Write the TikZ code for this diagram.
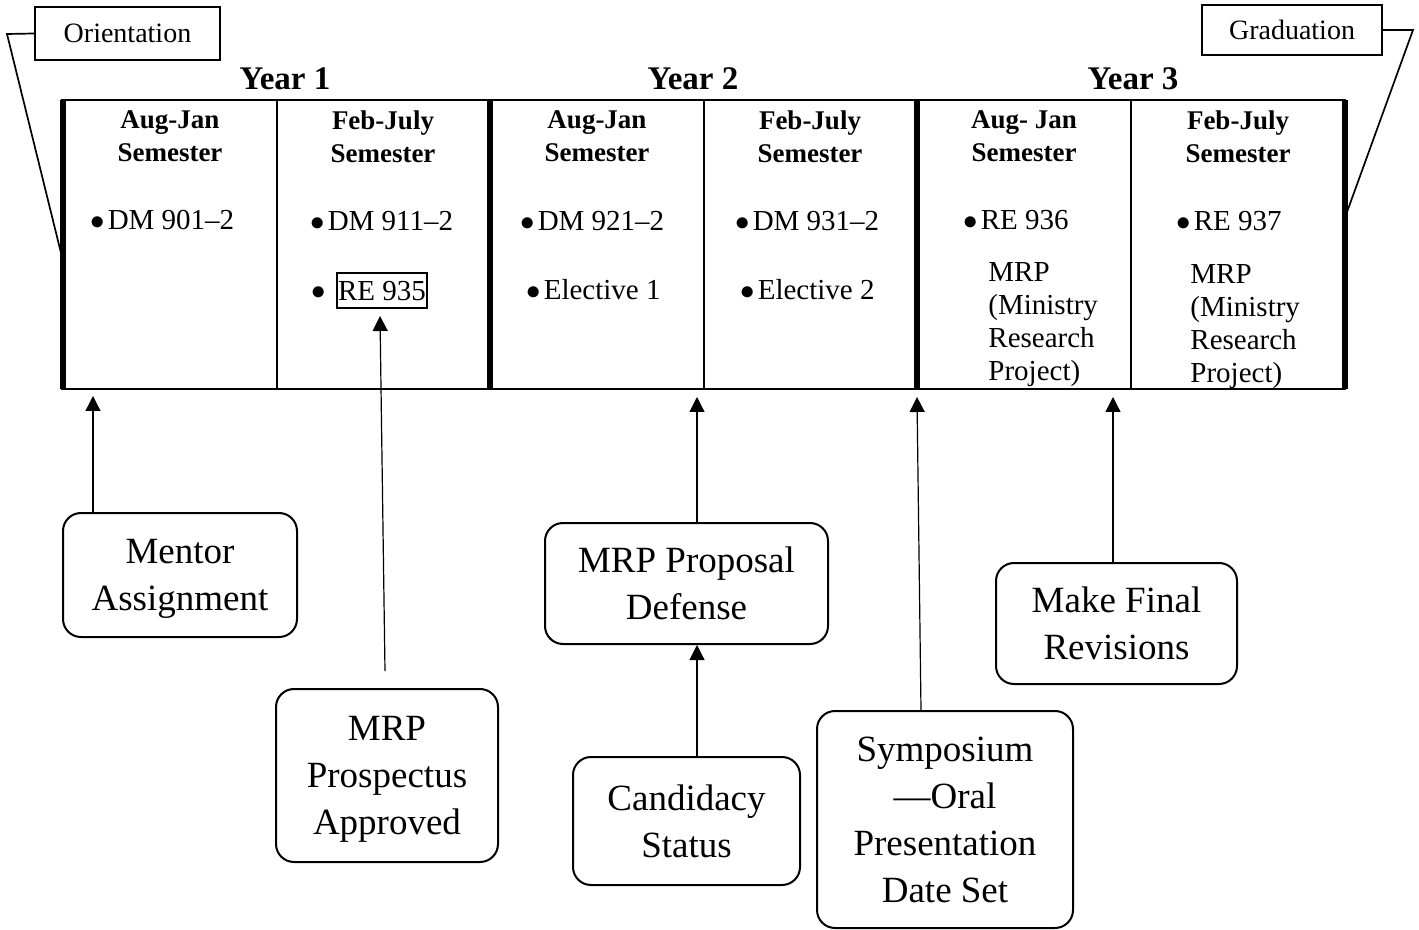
\documentclass[tikz,border=0pt]{standalone}
\usepackage{fontspec}
\setmainfont{Liberation Serif}
\usetikzlibrary{arrows.meta,calc}

\begin{document}
\begin{tikzpicture}[x=0.5pt, y=-0.5pt,
    thin rule/.style={line width=1pt},
    thick rule/.style={line width=3pt},
    tag/.style={draw, line width=1pt, inner sep=0pt, font=\fontsize{14}{16}\selectfont},
    yearlabel/.style={anchor=base, inner sep=0pt, font=\fontsize{16.5}{19}\bfseries\selectfont},
    semhead/.style={align=center, inner sep=0pt, font=\fontsize{13.5}{16.5}\bfseries\selectfont},
    item/.style={anchor=base west, inner sep=0pt, font=\fontsize{14.5}{16.5}\selectfont},
    mrptext/.style={anchor=north west, align=left, inner sep=0pt, font=\fontsize{14.5}{16.5}\selectfont},
    milestone/.style={draw, line width=1pt, rounded corners=9pt, align=center, text depth=-4.5pt,
      font=\fontsize{18.5}{23.5}\selectfont},
    pointer/.style={-{Triangle[length=7.5pt,width=7.5pt]}, line width=0.6pt},
    bracket/.style={line width=0.85pt}]
  \useasboundingbox (0,0) rectangle (1419,930);

  \node[tag, minimum width=92.5pt, minimum height=26.5pt] (orient) at (127.5,33.5) {Orientation};
  \node[tag, minimum width=90pt, minimum height=25pt] (grad) at (1292,30) {Graduation};
  \coordinate (lfold) at (7,34);
  \coordinate (ltab) at (62,257);
  \coordinate (rfold) at (1413,30);
  \coordinate (rtab) at (1347,212);
  \draw[bracket] (orient.west) -- (lfold) -- (ltab);
  \draw[bracket] (grad.east) -- (rfold) -- (rtab);

  \node[yearlabel] (y1) at (285,90) {Year 1};
  \node[yearlabel] (y2) at (693,90) {Year 2};
  \node[yearlabel] (y3) at (1133,90) {Year 3};

  \draw[thin rule] (62,100) rectangle (1345,389);
  \foreach \x in {277,704,1131}
    \draw[thin rule] (\x,100) -- (\x,389);
  \foreach \x in {63,490,917,1345}
    \draw[thick rule] (\x,100) -- (\x,389);

  \node[semhead] (h1) at (170,136.5) {Aug-Jan\\Semester};
  \node[semhead] (h2) at (383,136.5) {Feb-July\\Semester};
  \node[semhead] (h3) at (597,136.5) {Aug-Jan\\Semester};
  \node[semhead] (h4) at (810,136.5) {Feb-July\\Semester};
  \node[semhead] (h5) at (1024,136.5) {Aug- Jan\\Semester};
  \node[semhead] (h6) at (1238,136.5) {Feb-July\\Semester};

  \node[item] (dm901) at (90,230) {$\bullet$\hspace{1.5pt}DM 901--2};
  \node[item] (dm911) at (310,231) {$\bullet$\hspace{1.5pt}DM 911--2};
  \node[item] (b935) at (311,300) {$\bullet$};
  \node[draw, line width=1pt, inner xsep=0.5pt, inner ysep=3.75pt, text height=10pt, text depth=0pt,
        font=\fontsize{14.5}{16.5}\selectfont] (re935) at (382,290.5) {RE 935};
  \node[item] (dm921) at (520,231) {$\bullet$\hspace{1.5pt}DM 921--2};
  \node[item] (el1) at (526,300) {$\bullet$\hspace{1.5pt}Elective 1};
  \node[item] (dm931) at (735,231) {$\bullet$\hspace{1.5pt}DM 931--2};
  \node[item] (el2) at (740,300) {$\bullet$\hspace{1.5pt}Elective 2};
  \node[item] (re936) at (963,230) {$\bullet$\hspace{1.5pt}RE 936};
  \node[mrptext] (mrp5) at (988,262) {MRP\\(Ministry\\Research\\Project)};
  \node[item] (re937) at (1176,231) {$\bullet$\hspace{1.5pt}RE 937};
  \node[mrptext] (mrp6) at (1190,264) {MRP\\(Ministry\\Research\\Project)};

  \node[milestone, minimum width=117pt, minimum height=62pt] (mentor) at (180,575) {Mentor\\Assignment};
  \node[milestone, minimum width=111pt, minimum height=86.5pt] (prosp) at (387,775.5) {MRP\\Prospectus\\Approved};
  \node[milestone, minimum width=141.5pt, minimum height=60.5pt] (propdef) at (686.5,583.5) {MRP Proposal\\Defense};
  \node[milestone, minimum width=113.5pt, minimum height=64pt] (cand) at (686.5,821) {Candidacy\\Status};
  \node[milestone, minimum width=128pt, minimum height=108.5pt, text depth=-8.5pt] (symp) at (945,819.5) {Symposium\\---Oral\\Presentation\\Date Set};
  \node[milestone, minimum width=120.5pt, minimum height=60.5pt] (revis) at (1116.5,623.5) {Make Final\\Revisions};

  \coordinate (mentortip) at (93,396);
  \coordinate (deftip) at (697,397);
  \coordinate (symptip) at (917,397);
  \coordinate (revtip) at (1113,397);

  \draw[pointer] (mentor.north -| mentortip) -- (mentortip);
  \draw[pointer] ($(prosp.north)+(-2,-17)$) -- ($(re935.south)+(-2,7)$);
  \draw[pointer] (propdef.north -| deftip) -- (deftip);
  \draw[pointer] (cand.north -| deftip) -- (propdef.south -| deftip);
  \draw[pointer] ([xshift=-12pt]symp.north) -- (symptip);
  \draw[pointer] (revis.north -| revtip) -- (revtip);
\end{tikzpicture}
\end{document}
